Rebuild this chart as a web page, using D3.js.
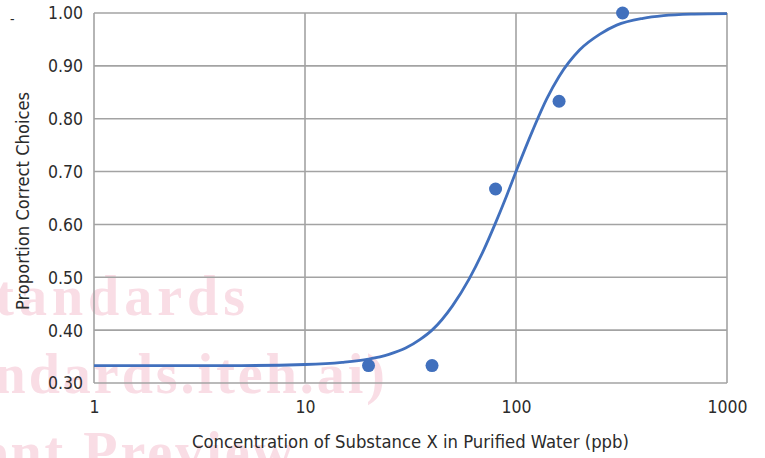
<!DOCTYPE html>
<html>
<head>
<meta charset="utf-8">
<script src="https://cdn.jsdelivr.net/npm/d3@7"></script>
<style>
  html, body { margin: 0; padding: 0; background: #fff; }
  svg { display: block; }
</style>
</head>
<body>
<svg id="chart" width="765" height="458"></svg>
<script>
// ---- data ----
const pointConc = [20, 40, 80, 160, 320];
const pointProp = [0.333, 0.333, 0.667, 0.833, 1.0];

// fitted curve
const curveConc = [1, 5, 10, 15, 20, 25, 30, 35, 40, 50, 60, 70, 80, 90, 100, 120, 140, 160, 200, 250, 300, 400, 500, 700, 1000];
const curveProp = [0.333, 0.333, 0.335, 0.339, 0.345, 0.354, 0.366, 0.382, 0.400, 0.446, 0.497, 0.550, 0.603, 0.653, 0.700, 0.778, 0.838, 0.880, 0.930, 0.960, 0.977, 0.990, 0.995, 0.998, 0.999];

const xTicks = [1, 10, 100, 1000];
const yTicks = [0.30, 0.40, 0.50, 0.60, 0.70, 0.80, 0.90, 1.00];

const xTitle = "Concentration of Substance X in Purified Water (ppb)";
const yTitle = "Proportion Correct Choices";
const watermarkLines = ["Standards", "Standards.iteh.ai)", "Document Preview"];

// ---- drawing ----
const svg = d3.select("#chart");
const x = d3.scaleLog().domain([1, 1000]).range([94, 727]);
const y = d3.scaleLinear().domain([0.3, 1.0]).range([383, 13]);

svg.append("rect").attr("width", 765).attr("height", 458).attr("fill", "#fff");

// watermark (behind)
const wm = svg.append("g")
  .attr("font-family", "'Liberation Serif', 'Times New Roman', serif")
  .attr("font-weight", "bold")
  .attr("font-size", 56)
  .attr("fill", "#f9dde5")
  .attr("text-anchor", "end");
const wmEnds = [250, 388, 296];
const wmBase = [315, 393, 471];
const wmSpacing = [5, 3, 3];
watermarkLines.forEach((t, i) => {
  wm.append("text").attr("x", wmEnds[i]).attr("y", wmBase[i]).attr("letter-spacing", wmSpacing[i]).text(t);
});

const gridColor = "#a3a3a3";
// horizontal gridlines
svg.append("g").selectAll("line").data(yTicks).join("line")
  .attr("x1", x(1)).attr("x2", x(1000))
  .attr("y1", d => y(d)).attr("y2", d => y(d))
  .attr("stroke", gridColor).attr("stroke-width", 1.6);
// vertical gridlines
svg.append("g").selectAll("line").data(xTicks).join("line")
  .attr("x1", d => x(d)).attr("x2", d => x(d))
  .attr("y1", y(1.0)).attr("y2", y(0.3))
  .attr("stroke", gridColor).attr("stroke-width", 1.6);

// axes labels via d3 axes (tick lines hidden)
const font = "'DejaVu Sans Condensed', 'DejaVu Sans', Verdana, sans-serif";
const yAxis = svg.append("g").attr("transform", `translate(${x(1)},0)`)
  .call(d3.axisLeft(y).tickValues(yTicks).tickFormat(d3.format(".2f")).tickSize(0).tickPadding(11));
const xAxis = svg.append("g").attr("transform", `translate(0,${y(0.3)})`)
  .call(d3.axisBottom(x).tickValues(xTicks).tickFormat(d3.format("d")).tickSize(0).tickPadding(18));
[yAxis, xAxis].forEach(a => {
  a.select(".domain").remove();
  a.selectAll("text").attr("font-family", font).attr("font-size", 17.5).attr("fill", "#2b2b2b");
});
yAxis.selectAll("text").attr("dy", "0.34em");
xAxis.selectAll("text").attr("dy", "0.68em");

// curve
const curveData = curveConc.map((c, i) => [c, curveProp[i]]);
svg.append("path")
  .datum(curveData)
  .attr("fill", "none")
  .attr("stroke", "#4170bd")
  .attr("stroke-width", 2.8)
  .attr("d", d3.line().x(d => x(d[0])).y(d => y(d[1])).curve(d3.curveMonotoneX));

// points
svg.append("g").selectAll("circle").data(pointConc.map((c, i) => [c, pointProp[i]])).join("circle")
  .attr("cx", d => x(d[0])).attr("cy", d => y(d[1])).attr("r", 6.5)
  .attr("fill", "#4170bd");

// titles
svg.append("text")
  .attr("x", (x(1) + x(1000)) / 2).attr("y", 448)
  .attr("text-anchor", "middle")
  .attr("font-family", font).attr("font-size", 17.5).attr("fill", "#2b2b2b")
  .attr("textLength", 437).attr("lengthAdjust", "spacingAndGlyphs")
  .text(xTitle);
svg.append("text")
  .attr("transform", `translate(29,${(y(0.3) + y(1.0)) / 2 + 3}) rotate(-90)`)
  .attr("text-anchor", "middle")
  .attr("font-family", font).attr("font-size", 17.5).attr("fill", "#2b2b2b")
  .attr("textLength", 218).attr("lengthAdjust", "spacingAndGlyphs")
  .text(yTitle);

// small stray mark at top-left
svg.append("text")
  .attr("x", 10).attr("y", 24)
  .attr("font-family", font).attr("font-size", 14).attr("fill", "#2b2b2b")
  .text("-");
</script>
</body>
</html>
